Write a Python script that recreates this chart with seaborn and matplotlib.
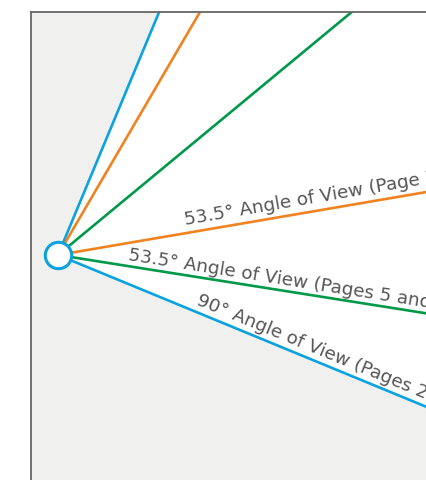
import numpy as np
import pandas as pd
import matplotlib
matplotlib.use("Agg")
import matplotlib.pyplot as plt
import seaborn as sns

# ---- data (viewing cones, angles in degrees measured from horizontal) ----
series = ["90° Angle of View (Pages 2-4)",
          "53.5° Angle of View (Page 7)",
          "53.5° Angle of View (Pages 5 and 6)"]
upper_deg = [67.4, 59.7, 39.6]
lower_deg = [-22.4, 9.7, -9.0]
colors = ["#0AA3E0", "#F08220", "#00994A"]
label_dist = [146, 131, 70]     # distance along lower ray where the label starts
label_off = [3, 4, 2]

# camera position (in the axes' pixel-like units)
cam_x, cam_y = 58, 255
ray_len = 2000

sns.set_theme(style="white")
plt.rcParams['font.family'] = ['DejaVu Sans']

W, H = 426, 480
fig = plt.figure(figsize=(W / 100, H / 100), dpi=100)
AW, AH = 700, 700
left_px, top_px = 31, 12
ax = fig.add_axes([left_px / W, (H - top_px - AH) / H, AW / W, AH / H])
ax.set_xlim(left_px, left_px + AW)
ax.set_ylim(top_px + AH, top_px)
ax.set_facecolor("#F0F0EE")

# white field of view of the widest cone
t = np.radians(np.linspace(lower_deg[0], upper_deg[0], 100))
poly_x = np.concatenate([[cam_x], cam_x + ray_len * np.cos(t)])
poly_y = np.concatenate([[cam_y], cam_y - ray_len * np.sin(t)])
ax.fill(poly_x, poly_y, color="white", zorder=0.5, lw=0)

rows = []
for i, s in enumerate(series):
    for j, a in enumerate([upper_deg[i], lower_deg[i]]):
        r = np.radians(a)
        rid = f"{i}-{j}"
        rows.append(dict(series=s, ray=rid, x=cam_x, y=cam_y, k=0))
        rows.append(dict(series=s, ray=rid, x=cam_x + ray_len * np.cos(r),
                         y=cam_y - ray_len * np.sin(r), k=1))
df = pd.DataFrame(rows)
sns.lineplot(data=df, x="x", y="y", hue="series", units="ray",
             estimator=None, sort=False, palette=dict(zip(series, colors)),
             legend=False, lw=1.9, ax=ax, zorder=2)

# camera marker
ax.scatter([cam_x], [cam_y], s=19 ** 2, facecolor="white",
           edgecolor=colors[0], linewidth=2.2, zorder=5)

# labels along the lower ray of each cone
for i, s in enumerate(series):
    a = np.radians(lower_deg[i])
    d = label_dist[i]
    ax.text(cam_x + d * np.cos(a) - np.sin(a) * label_off[i],
            cam_y - d * np.sin(a) - np.cos(a) * label_off[i],
            s, rotation=lower_deg[i], rotation_mode="anchor",
            ha="left", va="bottom", fontsize=13.2, color="#555555",
            zorder=4, clip_on=False)

ax.set_xlabel("")
ax.set_ylabel("")
ax.set_xticks([])
ax.set_yticks([])
for side in ["right", "bottom"]:
    ax.spines[side].set_visible(False)
for side in ["left", "top"]:
    ax.spines[side].set_color("#666666")
    ax.spines[side].set_linewidth(1.3)

fig.savefig("out.png", dpi=100)
